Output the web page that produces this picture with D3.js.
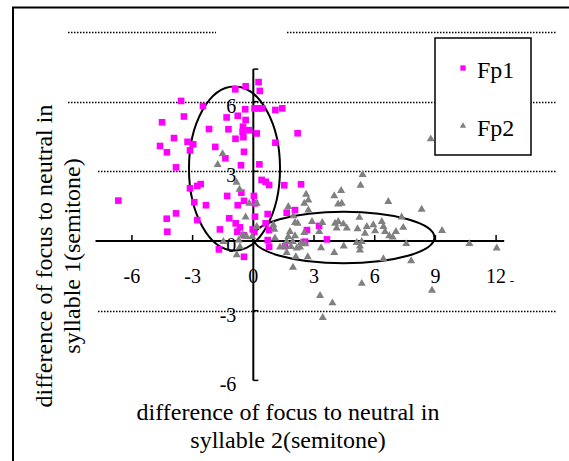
<!DOCTYPE html>
<html>
<head>
<meta charset="utf-8">
<script src="https://cdn.jsdelivr.net/npm/d3@7"></script>
<style>
  body { margin: 0; background: #fff; }
  svg text { font-family: "Liberation Serif", "Times New Roman", serif; fill: #000; }
</style>
</head>
<body>
<div id="chart"></div>
<script>
const width = 569
const height = 461

// Fp1 : [x, y] in semitones
const fp1 = [
  [-3.57, 6.03], [-2.49, 5.81], [-3.43, 5.36], [-4.51, 5.11], [-3.92, 4.43], [-4.61, 4.09],
  [-4.27, 3.82], [-3.25, 4.27], [-2.97, 4.16], [-3.13, 3.90], [-3.82, 3.17], [-2.19, 4.82],
  [-1.88, 4.05], [-1.38, 3.56], [-1.32, 5.32], [-1.23, 4.81], [-0.89, 6.53], [-0.38, 6.66],
  [0.26, 6.84], [0.32, 6.46], [-0.40, 5.67], [0.06, 5.71], [0.26, 5.71], [0.44, 5.71],
  [1.09, 5.64], [1.43, 5.71], [-0.77, 5.39], [-0.38, 5.21], [-0.51, 4.92], [-0.20, 4.77],
  [0.17, 4.63], [-0.53, 4.69], [-0.49, 4.47], [-0.88, 4.40], [-0.46, 3.84], [-0.61, 3.26],
  [0.30, 3.30], [2.19, 4.64], [1.09, 4.23], [-6.67, 1.74], [-3.82, 1.19], [-4.28, 0.96],
  [-4.25, 0.40], [-3.13, 2.27], [-2.77, 2.37], [-2.60, 2.45], [-2.92, 1.67], [-2.34, 1.54],
  [-2.77, 0.90], [-1.29, 1.94], [-0.77, 1.54], [-0.59, 2.08], [-0.46, 1.73], [0.03, 1.94],
  [-1.19, 0.98], [-0.87, 0.76], [-0.66, 0.59], [-0.79, 0.40], [-1.65, 0.50], [0.08, 1.05],
  [-0.03, 0.50], [0.05, 0.40], [-0.46, 0.25], [-1.70, -0.36], [-0.46, -0.68], [0.41, 2.63],
  [0.61, 2.55], [0.78, 2.41], [1.53, 2.40], [2.36, 2.44], [1.65, 1.22], [2.06, 1.33],
  [0.71, 1.16], [0.61, 0.76], [0.78, 0.47], [2.65, 0.47], [3.25, 0.65], [0.71, 0.04],
  [0.78, -0.25], [1.57, -0.22], [2.56, -0.03], [3.64, 0.07], [0.08, 1.62]
]

// Fp2 : [x, y] in semitones
const fp2 = [
  [-1.52, 3.75], [-1.76, 3.29], [-0.83, 2.52], [-0.68, 2.22], [-0.20, 1.62], [0.17, 1.62],
  [-0.38, 1.03], [0.17, 0.62], [-0.33, 0.19], [-0.06, 0.19], [-1.48, -0.03], [-0.72, 0.04],
  [-0.66, -0.25], [-0.82, -0.60], [-0.52, 0.26], [5.40, 2.86], [5.30, 2.39], [4.34, 2.17],
  [4.00, 1.94], [4.19, 1.59], [4.37, 1.62], [2.61, 2.01], [2.72, 1.76], [2.52, 1.62],
  [2.72, 1.33], [1.73, 1.48], [1.98, 1.08], [2.06, 0.79], [0.99, 0.69], [2.19, 0.76],
  [2.90, 0.83], [3.41, 0.79], [2.52, 0.36], [1.81, 0.40], [4.04, 0.76], [4.20, 0.83],
  [4.45, 0.73], [4.62, 0.55], [4.12, 0.55], [5.24, 1.01], [5.15, 0.52], [5.61, 0.62],
  [1.04, 0.50], [1.07, 0.12], [1.73, 0.19], [1.65, -0.03], [1.53, -0.22], [2.06, 0.22],
  [1.95, -0.03], [2.36, -0.07], [2.56, -0.13], [2.31, -0.27], [2.15, -0.31], [1.86, -0.24],
  [1.65, -0.50], [1.32, -0.27], [3.35, -0.30], [4.00, -0.50], [4.47, -0.22], [5.11, -0.07],
  [5.27, -0.22], [5.36, -0.03], [5.27, -0.39], [1.96, -1.14], [2.69, -0.68], [2.10, -0.68],
  [6.67, 1.69], [8.32, 1.36], [6.35, 0.83], [5.93, 0.69], [6.43, 0.62], [6.51, 0.40],
  [6.02, 0.43], [6.72, 0.22], [6.89, 0.16], [5.52, 0.33], [7.05, 0.40], [7.41, 0.58],
  [7.33, 1.03], [7.56, -0.12], [9.33, 0.45], [10.68, -0.12], [12.03, -0.31], [7.80, -0.86],
  [6.43, -0.77], [5.36, -1.83], [8.83, -2.13], [3.30, -2.35], [3.91, -2.67], [3.43, -3.30],
  [8.77, 4.39], [3.26, 0.40]
]

const xTicks = [-6, -3, 0, 3, 6, 9, 12]
const yTicks = [-6, -3, 0, 3, 6]
const gridValues = [9, 6, 3, -3]

// hand drawn ellipses, in data units
const ellipses = [
  { cx: -0.93, cy: 3.12, rx: 2.25, ry: 3.53 },
  { cx: 4.47, cy: 0.15, rx: 4.48, ry: 1.11 }
]

const svg = d3.select('#chart')
  .append('svg')
    .attr('width', width)
    .attr('height', height)

const x = d3.scaleLinear().domain([-7.8, 12.4]).range([95.5, 504.2])
const y = d3.scaleLinear().domain([-6, 7.4]).range([380.4, 69.1])

// outer chart border, runs off the right and bottom edge
svg.append('rect')
  .attr('x', 13).attr('y', 7.5)
  .attr('width', 620).attr('height', 520)
  .attr('fill', 'none')
  .attr('stroke', '#000')
  .attr('stroke-width', 2)

// dotted grid
svg.append('g')
  .selectAll('line')
  .data(gridValues)
  .enter()
  .append('line')
    .attr('x1', 68).attr('x2', 557)
    .attr('y1', d => Math.round(y(d)) + 0.5)
    .attr('y2', d => Math.round(y(d)) + 0.5)
    .attr('stroke', '#000')
    .attr('stroke-width', 1.3)
    .attr('stroke-dasharray', '1.5,1.5')

// white boxes of the (empty) title and the y axis title
svg.append('rect').attr('x', 216).attr('y', 22).attr('width', 71).attr('height', 24).attr('fill', '#fff')
svg.append('rect').attr('x', 26).attr('y', 128).attr('width', 71).attr('height', 280).attr('fill', '#fff')

// axes
const axes = svg.append('g').attr('stroke', '#000')
axes.append('line')
  .attr('x1', x.range()[0]).attr('x2', x.range()[1])
  .attr('y1', y(0)).attr('y2', y(0))
  .attr('stroke-width', 2)
axes.append('line')
  .attr('x1', x(0)).attr('x2', x(0))
  .attr('y1', y.range()[0]).attr('y2', y.range()[1])
  .attr('stroke-width', 2)

axes.selectAll('.xt')
  .data(xTicks)
  .enter()
  .append('line')
    .attr('x1', d => x(d)).attr('x2', d => x(d))
    .attr('y1', y(0)).attr('y2', y(0) - 6)
    .attr('stroke-width', 1.5)

axes.selectAll('.yt')
  .data(yTicks.concat([7.4]))
  .enter()
  .append('line')
    .attr('x1', x(0)).attr('x2', x(0) + 5)
    .attr('y1', d => y(d)).attr('y2', d => y(d))
    .attr('stroke-width', 1.5)

svg.append('g')
  .selectAll('text')
  .data(xTicks)
  .enter()
  .append('text')
    .attr('x', d => x(d))
    .attr('y', y(0) + 42)
    .attr('text-anchor', 'middle')
    .style('font-size', '20px')
    .text(d => d)

svg.append('g')
  .selectAll('text')
  .data(yTicks)
  .enter()
  .append('text')
    .attr('x', x(0) - 17)
    .attr('y', d => y(d) + 11)
    .attr('text-anchor', 'end')
    .style('font-size', '20px')
    .text(d => d)

svg.append('text')
  .attr('x', 512).attr('y', 285)
  .attr('text-anchor', 'middle')
  .style('font-size', '13px')
  .text('-')

// ellipses
svg.append('g')
  .selectAll('ellipse')
  .data(ellipses)
  .enter()
  .append('ellipse')
    .attr('cx', d => x(d.cx))
    .attr('cy', d => y(d.cy))
    .attr('rx', d => x(d.rx) - x(0))
    .attr('ry', d => y(0) - y(d.ry))
    .attr('fill', 'none')
    .attr('stroke', '#000')
    .attr('stroke-width', 2)

// points
const square = d3.symbol().type(d3.symbolSquare).size(44)
const triangle = d3.symbol().type(d3.symbolTriangle).size(28)

svg.append('g')
  .selectAll('path')
  .data(fp1)
  .enter()
  .append('path')
    .attr('d', square)
    .attr('transform', d => `translate(${x(d[0])},${y(d[1])})`)
    .attr('fill', '#ff00ff')

svg.append('g')
  .selectAll('path')
  .data(fp2)
  .enter()
  .append('path')
    .attr('d', triangle)
    .attr('transform', d => `translate(${x(d[0])},${y(d[1])})`)
    .attr('fill', '#808080')

// legend
const legend = svg.append('g')
legend.append('rect')
  .attr('x', 435).attr('y', 38)
  .attr('width', 96).attr('height', 117)
  .attr('fill', '#fff')
  .attr('stroke', '#000')
  .attr('stroke-width', 1.5)
legend.append('path')
  .attr('d', d3.symbol().type(d3.symbolSquare).size(28))
  .attr('transform', 'translate(463,68)')
  .attr('fill', '#ff00ff')
legend.append('path')
  .attr('d', d3.symbol().type(d3.symbolTriangle).size(18))
  .attr('transform', 'translate(463,126)')
  .attr('fill', '#808080')
legend.append('text').attr('x', 477).attr('y', 78).style('font-size', '24px').text('Fp1')
legend.append('text').attr('x', 477).attr('y', 136).style('font-size', '24px').text('Fp2')

// axis titles
const xTitle = svg.append('text')
  .attr('text-anchor', 'middle')
  .style('font-size', '24px')
xTitle.append('tspan').attr('x', 288).attr('y', 420).text('difference of focus to neutral in')
xTitle.append('tspan').attr('x', 288).attr('y', 448).text('syllable 2(semitone)')

const yTitle = svg.append('text')
  .attr('text-anchor', 'middle')
  .attr('transform', 'translate(0,256) rotate(-90)')
  .style('font-size', '24px')
yTitle.append('tspan').attr('x', 0).attr('y', 52).text('difference of focus to neutral in')
yTitle.append('tspan').attr('x', 0).attr('y', 80).text('syllable 1(semitone)')
</script>
</body>
</html>
